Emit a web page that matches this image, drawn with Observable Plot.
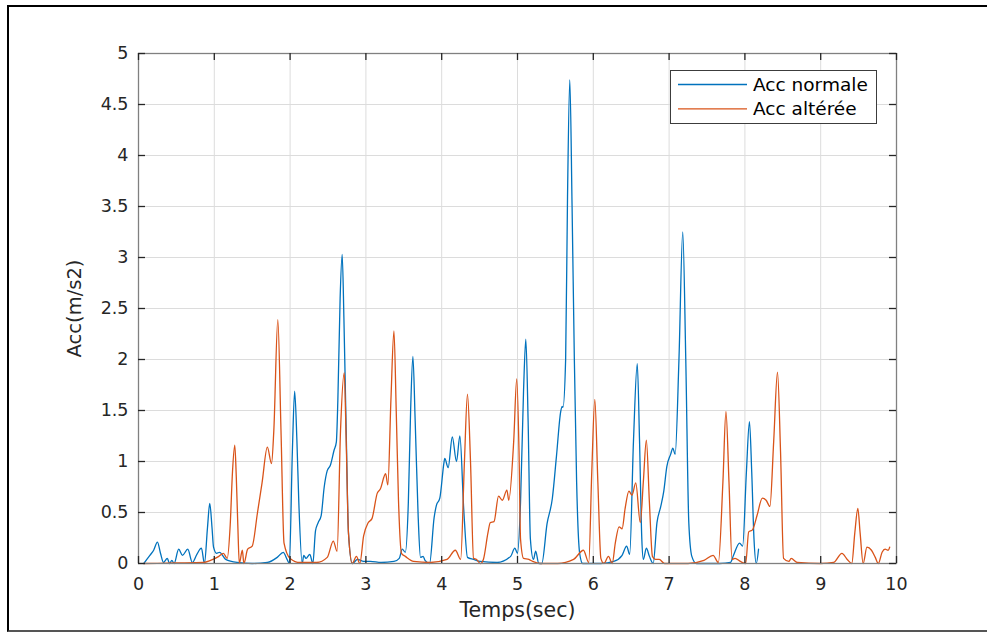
<!DOCTYPE html>
<html>
<head>
<meta charset="utf-8">
<script src="https://cdn.jsdelivr.net/npm/d3@7"></script>
<script src="https://cdn.jsdelivr.net/npm/@observablehq/plot@0.6"></script>
<style>
  html, body { margin: 0; padding: 0; background: #fff; }
  #wrap { position: relative; width: 987px; height: 632px; overflow: hidden; }
  #wrap svg.chart { position: absolute; left: 0; top: 0; }
  #outer { position: absolute; left: 7px; top: 5px; width: 1000px; height: 623px;
           border-top: 2.5px solid #000; border-left: 2.5px solid #000; border-bottom: 2px solid #555; pointer-events: none; }
  #legend { position: absolute; left: 670px; top: 70px; }
</style>
</head>
<body>
<div id="wrap"></div>
<script>
// ---- data ----
const seriesNames = ["Acc normale", "Acc altérée"];
const seriesColors = ["#0072BD", "#D95319"];

const timeNormale = [0.07,0.15,0.2,0.25,0.29,0.33,0.38,0.41,0.44,0.47,0.53,0.58,0.65,0.71,0.77,0.83,0.87,0.91,0.94,0.97,0.99,1.03,1.07,1.15,1.3,1.5,1.7,1.83,1.91,1.96,1.99,2.03,2.06,2.09,2.115,2.16,2.18,2.21,2.26,2.3,2.335,2.37,2.41,2.45,2.49,2.53,2.58,2.61,2.63,2.66,2.687,2.71,2.74,2.77,2.82,2.89,2.97,3.06,3.2,3.37,3.44,3.48,3.52,3.56,3.59,3.62,3.65,3.69,3.72,3.755,3.78,3.84,3.9,3.93,3.975,4.03,4.04,4.085,4.14,4.195,4.24,4.29,4.34,4.42,4.51,4.73,4.91,4.965,5.0,5.04,5.08,5.11,5.14,5.17,5.21,5.24,5.28,5.32,5.39,5.46,5.515,5.57,5.59,5.6,5.635,5.66,5.69,5.72,5.75,5.78,5.82,5.86,6.1,6.27,6.38,6.44,6.48,6.53,6.58,6.61,6.64,6.66,6.7,6.74,6.79,6.84,6.89,6.93,6.97,7.02,7.05,7.08,7.13,7.18,7.22,7.26,7.3,7.36,7.67,7.81,7.85,7.93,7.97,8.02,8.06,8.09,8.12,8.15,8.18];
const accNormale  = [0,0.08,0.13,0.21,0.1,0.01,0.05,0,0.03,0,0.14,0.08,0.14,0.01,0.09,0.15,0,0.35,0.59,0.35,0.16,0.1,0.11,0.04,0.01,0,0.01,0.06,0.11,0.04,0,1.1,1.69,1.2,0.6,0,0.08,0.05,0.09,0,0.32,0.4,0.47,0.75,0.91,0.96,1.11,1.19,1.6,2.6,3.03,2.4,1.3,0.3,0,0.04,0.02,0.02,0.01,0.02,0.05,0.14,0.11,0.6,1.5,2.03,1.4,0.45,0.06,0.07,0.03,0,0.45,0.57,0.64,0.99,1.03,0.94,1.24,1.0,1.25,0.54,0.06,0.04,0.02,0.01,0.07,0.15,0.1,0.6,1.7,2.2,1.4,0.24,0.04,0.12,0,0,0.39,0.64,1.06,1.49,1.54,1.53,2.0,3.6,4.74,3.5,2.0,0.8,0.1,0,0,0.02,0.08,0.17,0.09,1.2,1.96,1.2,0.24,0.04,0.15,0.07,0,0.4,0.56,0.71,0.95,1.07,1.13,1.07,2.0,3.25,2.0,0.4,0.07,0,0,0.01,0.08,0.2,0.17,0.9,1.39,0.9,0.24,0,0.14];

const timeAlteree = [0.07,0.5,0.86,0.95,1.06,1.12,1.17,1.21,1.24,1.27,1.29,1.31,1.33,1.37,1.39,1.44,1.5,1.57,1.63,1.7,1.755,1.785,1.838,1.88,1.92,2.0,2.13,2.35,2.49,2.57,2.62,2.665,2.714,2.74,2.77,2.82,2.875,2.92,2.97,3.03,3.08,3.15,3.19,3.26,3.29,3.33,3.37,3.4,3.43,3.47,3.52,3.63,3.85,4.07,4.18,4.25,4.3,4.34,4.38,4.42,4.46,4.51,4.55,4.61,4.64,4.69,4.75,4.8,4.86,4.885,4.95,4.99,5.02,5.04,5.08,5.15,5.2,5.3,5.53,5.74,5.87,5.94,5.98,6.02,6.06,6.1,6.14,6.2,6.25,6.29,6.34,6.38,6.42,6.47,6.51,6.56,6.62,6.66,6.7,6.74,6.78,6.82,6.87,6.94,7.25,7.46,7.58,7.65,7.71,7.75,7.79,7.83,7.87,7.94,8.01,8.05,8.1,8.16,8.23,8.28,8.33,8.38,8.43,8.47,8.51,8.58,8.61,8.69,9.0,9.17,9.28,9.35,9.41,9.45,9.49,9.52,9.56,9.61,9.67,9.72,9.76,9.81,9.85,9.89,9.91];
const accAlteree  = [0,0.005,0.01,0.03,0.07,0.1,0.05,0.38,0.9,1.16,0.85,0.38,0,0.13,0,0.14,0.17,0.5,0.79,1.14,0.98,1.3,2.39,1.3,0.2,0.05,0.01,0.01,0.06,0.22,0.12,1.3,1.87,1.2,0.3,0,0.07,0,0.27,0.4,0.44,0.69,0.73,0.88,0.77,1.6,2.28,1.5,0.62,0.1,0.07,0.02,0.01,0.04,0.13,0.04,1.0,1.66,1.0,0.05,0.04,0,0.04,0.3,0.4,0.41,0.66,0.62,0.72,0.62,1.2,1.81,1.1,0.24,0.05,0.04,0.02,0,0,0.04,0.13,0.01,0.9,1.61,0.8,0.05,0,0.07,0,0.2,0.36,0.34,0.54,0.71,0.67,0.79,0.4,0.8,1.21,0.6,0.07,0.04,0.04,0,0,0.03,0.08,0.01,0.8,1.49,0.8,0.04,0.05,0.02,0,0.31,0.33,0.47,0.64,0.62,0.56,1.2,1.875,1.1,0.05,0.02,0.05,0.01,0,0.01,0.1,0.04,0,0.3,0.54,0.3,0,0.16,0.13,0.06,0,0.11,0.14,0.13,0.16];

const xTicks = [0,1,2,3,4,5,6,7,8,9,10];
const yTicks = [0,0.5,1,1.5,2,2.5,3,3.5,4,4.5,5];
const xLabel = "Temps(sec)";
const yLabel = "Acc(m/s2)";

// ---- build tables ----
const dataNormale = timeNormale.map((t, i) => ({t, v: accNormale[i]}));
const dataAlteree = timeAlteree.map((t, i) => ({t, v: accAlteree[i]}));

const W = 987, H = 632, mL = 138, mR = 91, mT = 53, mB = 69;
const innerH = H - mT - mB;
const innerW = W - mL - mR;
const tickLen = 7;
const font = "DejaVu Sans, sans-serif";

const chart = Plot.plot({
  width: W, height: H,
  marginLeft: mL, marginRight: mR, marginTop: mT, marginBottom: mB,
  className: "chart",
  style: {fontFamily: font, background: "transparent", color: "#262626"},
  x: {domain: [0, 10]},
  y: {domain: [0, 5]},
  marks: [
    Plot.gridX(xTicks, {stroke: "#dcdcdc", strokeOpacity: 1, strokeWidth: 1}),
    Plot.gridY(yTicks, {stroke: "#dcdcdc", strokeOpacity: 1, strokeWidth: 1}),
    Plot.line(dataNormale, {x: "t", y: "v", stroke: seriesColors[0], strokeWidth: 1.3, curve: "monotone-x"}),
    Plot.line(dataAlteree, {x: "t", y: "v", stroke: seriesColors[1], strokeWidth: 1.3, curve: "monotone-x"}),
    Plot.frame({stroke: "#808080", strokeWidth: 1.3}),
    // inward tick marks on all four sides
    Plot.ruleX(xTicks, {x: d => d, insetTop: innerH - tickLen, stroke: "#262626", strokeWidth: 1.3}),
    Plot.ruleX(xTicks, {x: d => d, insetBottom: innerH - tickLen, stroke: "#262626", strokeWidth: 1.3}),
    Plot.ruleY(yTicks, {y: d => d, insetRight: innerW - tickLen, stroke: "#262626", strokeWidth: 1.3}),
    Plot.ruleY(yTicks, {y: d => d, insetLeft: innerW - tickLen, stroke: "#262626", strokeWidth: 1.3}),
    Plot.axisX(xTicks, {tickSize: 0, tickPadding: 14, fontSize: 17.5, tickFormat: d => String(d), label: null, fill: "#262626"}),
    Plot.axisY(yTicks, {tickSize: 0, tickPadding: 10, fontSize: 17.5, tickFormat: d => String(d), label: null, fill: "#262626"}),
    Plot.text([xLabel], {text: d => d, frameAnchor: "bottom", textAnchor: "middle", lineAnchor: "middle", dy: 47, fontSize: 20.5, fill: "#262626"}),
    Plot.text([yLabel], {text: d => d, frameAnchor: "left", textAnchor: "middle", lineAnchor: "middle", rotate: -90, dx: -64, fontSize: 19.5, fill: "#262626"})
  ]
});

const wrap = document.getElementById("wrap");
wrap.appendChild(chart);

const outer = document.createElement("div");
outer.id = "outer";
wrap.appendChild(outer);

// legend (HTML-positioned SVG box)
const lw = 207, lh = 54;
const leg = d3.create("svg").attr("id", "legend").attr("width", lw).attr("height", lh);
leg.append("rect").attr("x", 0.5).attr("y", 0.5).attr("width", lw - 1).attr("height", lh - 1)
  .attr("fill", "#fff").attr("stroke", "#3c3c3c").attr("stroke-width", 1);
seriesNames.forEach((name, i) => {
  const cy = 14.5 + i * 24.3;
  leg.append("line").attr("x1", 8).attr("x2", 77).attr("y1", cy).attr("y2", cy)
    .attr("stroke", seriesColors[i]).attr("stroke-width", 1.3);
  leg.append("text").attr("x", 83).attr("y", cy).attr("dy", "0.35em")
    .attr("font-family", font).attr("font-size", 18.5).attr("fill", "#000").text(name);
});
wrap.appendChild(leg.node());
</script>
</body>
</html>
